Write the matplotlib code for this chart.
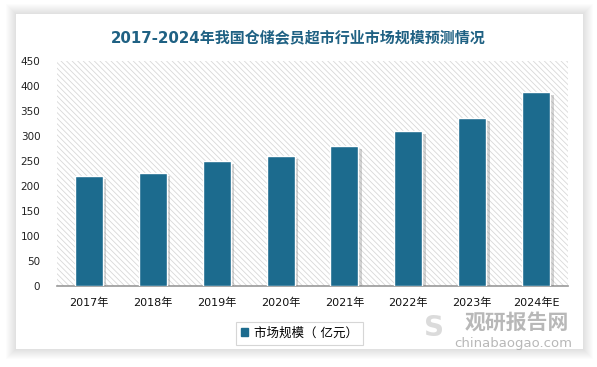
import matplotlib
matplotlib.use('Agg')
import matplotlib.pyplot as plt
import matplotlib.patheffects as pe
from matplotlib.patches import Rectangle

plt.rcParams['font.family'] = ['DejaVu Sans', 'Noto Sans CJK SC']
plt.rcParams['hatch.linewidth'] = 0.6
plt.rcParams['hatch.color'] = '#d0d0d0'

# data
years = ['2017年', '2018年', '2019年', '2020年', '2021年', '2022年', '2023年', '2024年E']
market_size = [220, 225, 250, 260, 280, 310, 335, 387]
y_ticks = [0, 50, 100, 150, 200, 250, 300, 350, 400, 450]

title = '2017-2024年我国仓储会员超市行业市场规模预测情况'
legend_label = '市场规模（ 亿元）'
bar_color = '#1c6b8e'
title_color = '#1f6183'

fig = plt.figure(figsize=(5.97, 3.67), dpi=100)
fig.patch.set_facecolor('white')

# card with soft shadow
W, H = 597.0, 367.0
cx0, cy0, cx1, cy1 = 16, 14, 583, 349
for d in range(10, 0, -1):
    fig.patches.append(Rectangle(((cx0 - d) / W, 1 - (cy1 + d) / H),
                                 (cx1 - cx0 + 2 * d) / W, (cy1 - cy0 + 2 * d) / H,
                                 transform=fig.transFigure, facecolor='#808080',
                                 edgecolor='none', alpha=0.022, zorder=0))
fig.patches.append(Rectangle((cx0 / W, 1 - cy1 / H), (cx1 - cx0) / W, (cy1 - cy0) / H,
                             transform=fig.transFigure, facecolor='white',
                             edgecolor='none', zorder=1))

ax = fig.add_axes([57 / W, 1 - 285.5 / H, (568 - 57) / W, (285.5 - 61) / H])
ax.set_zorder(2)
ax.patch.set_facecolor('white')
ax.patch.set_hatch('\\\\\\\\\\\\')
ax.patch.set_edgecolor('#d8d8d8')
ax.patch.set_linewidth(0)

x = range(len(years))
bars = ax.bar(x, market_size, width=0.44, color=bar_color, edgecolor='white',
              linewidth=1.0, zorder=3)
for b in bars:
    b.set_path_effects([pe.SimplePatchShadow(offset=(2.5, -2), shadow_rgbFace='#707070', alpha=0.3),
                        pe.Normal()])

ax.set_xlim(-0.5, len(years) - 0.5)
ax.set_ylim(0, 450)
ax.set_yticks(y_ticks)
ax.set_xticks(list(x))
ax.set_xticklabels(years, fontsize=8)
ax.tick_params(axis='y', labelsize=7.5, length=0, pad=12, colors='#222222')
ax.tick_params(axis='x', length=0, pad=9, colors='#111111')
for s in ['top', 'right', 'left']:
    ax.spines[s].set_visible(False)
ax.spines['bottom'].set_color('#999999')
ax.spines['bottom'].set_linewidth(1.2)

fig.text(0.5, 1 - 38 / H, title, ha='center', va='center', fontsize=10.8,
         fontweight='bold', color=title_color, zorder=5)

leg = ax.legend([bars[0]], [legend_label], loc='center', bbox_to_anchor=(299.5 / W, 1 - 333 / H),
                bbox_transform=fig.transFigure, fontsize=9, frameon=True, fancybox=False,
                handlelength=0.6, handleheight=0.6, handletextpad=0.5, borderpad=0.4,
                borderaxespad=0)
leg.get_frame().set_edgecolor('#cccccc')
leg.get_frame().set_linewidth(0.8)
for h in leg.legend_handles:
    h.set_path_effects([])
    h.set_edgecolor(bar_color)

# watermark
fig.text(517 / W, 1 - 322 / H, '观研报告网', ha='center', va='center', fontsize=15,
         fontweight='bold', color='#9a9a9a', alpha=0.7, zorder=6,
         family=['Noto Sans CJK SC'])
fig.text(513 / W, 1 - 343 / H, 'chinabaogao.com', ha='center', va='center', fontsize=9.5,
         color='#9a9a9a', alpha=0.7, zorder=6)
fig.text(434 / W, 1 - 328 / H, 'S', ha='center', va='center', fontsize=20,
         fontweight='bold', color='#b8b8b8', alpha=0.5, zorder=6)

plt.savefig('out.png', dpi=100)
